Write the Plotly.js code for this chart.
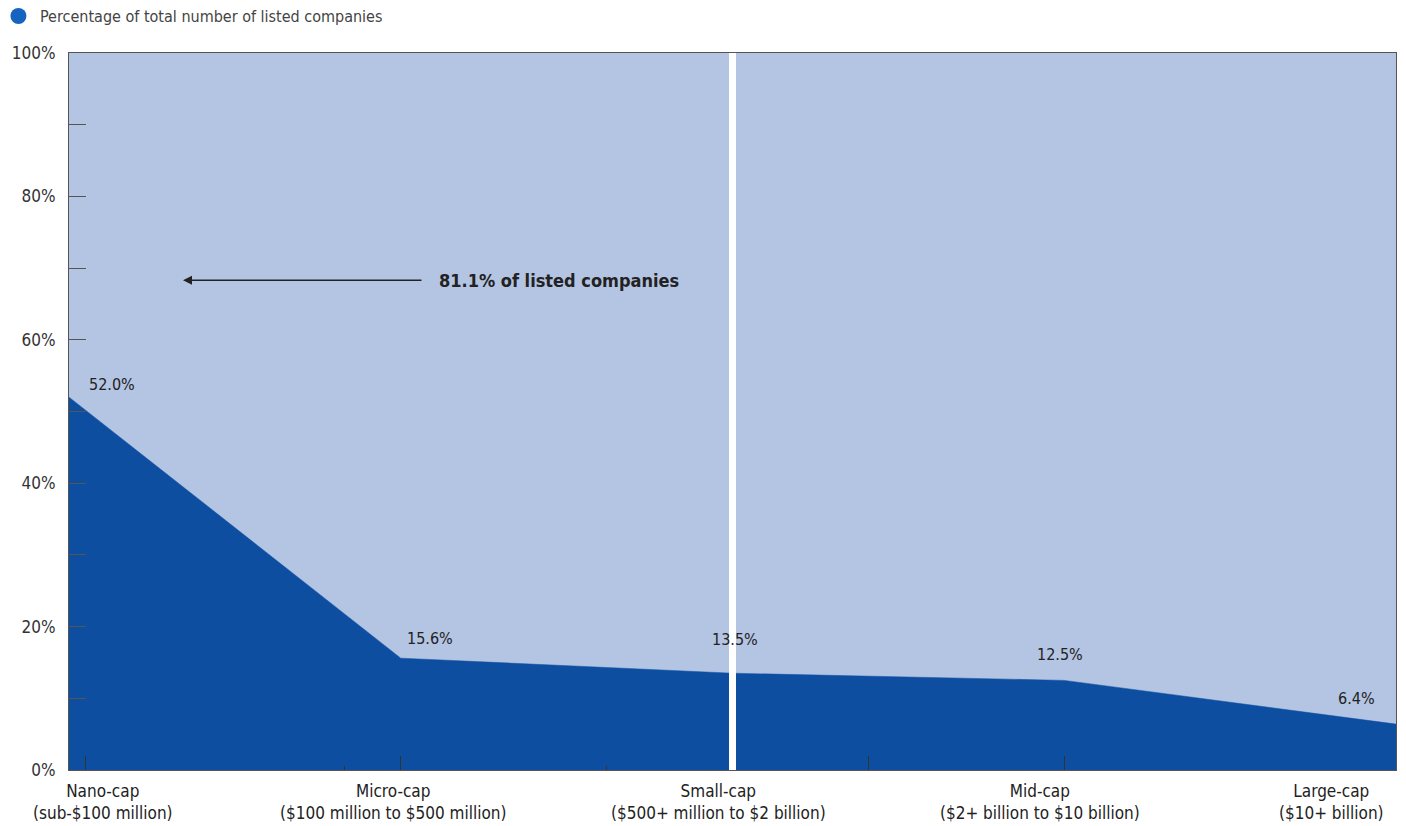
<!DOCTYPE html>
<html>
<head>
<meta charset="utf-8">
<script src="https://cdn.plot.ly/plotly-3.0.1.min.js"></script>
<style>
  html, body { margin: 0; padding: 0; background: #ffffff; }
  #chart { width: 1406px; height: 826px; }
</style>
</head>
<body>
<div id="chart"></div>
<script>
// ---- data ----
const categories = ["Nano-cap", "Micro-cap", "Small-cap", "Mid-cap", "Large-cap"];
const ranges = ["(sub-$100 million)", "($100 million to $500 million)", "($500+ million to $2 billion)", "($2+ billion to $10 billion)", "($10+ billion)"];
const shares = [52.0, 15.6, 13.5, 12.5, 6.4];
const seriesName = "Percentage of total number of listed companies";
const calloutText = "81.1% of listed companies";
const yTickVals = [0, 20, 40, 60, 80, 100];
const yTickText = ["0%", "20%", "40%", "60%", "80%", "100%"];
const yMinorVals = [10, 30, 50, 70, 90];
const xMajorTicks = [0.05, 1, 2.41, 3];
const xMinorTicks = [0.83, 1.62];

// ---- style ----
const FONT = "DejaVu Sans Condensed, Liberation Sans Narrow, sans-serif";
const DARK = "#0d4ea1";
const LIGHT = "#b4c4e3";
const TXT = "#222222";
const labelShift = [  // per-label pixel offsets for value labels [xshift, yshift, xanchor]
  [18, 13, "left"], [29, 20, "center"], [2, 34, "center"], [-4, 26, "center"], [-19, 26, "right"]
];
const catShift = [34, -8, -14, -24, -65];

const xIdx = categories.map((c, i) => i);

const traces = [{
  type: "scatter",
  mode: "lines",
  x: xIdx,
  y: shares,
  fill: "tozeroy",
  fillcolor: DARK,
  line: { color: DARK, width: 0.5 },
  hoverinfo: "skip",
  showlegend: false
}];

const annotations = [];
shares.forEach((v, i) => {
  annotations.push({
    x: i, y: v, xref: "x", yref: "y",
    text: v.toFixed(1) + "%",
    showarrow: false,
    xanchor: labelShift[i][2], yanchor: "middle",
    xshift: labelShift[i][0], yshift: labelShift[i][1],
    font: { family: FONT, size: 16, color: TXT }
  });
});
categories.forEach((c, i) => {
  annotations.push({
    x: i, y: 0, xref: "x", yref: "paper",
    text: c + "<br>" + ranges[i], showarrow: false,
    xanchor: "center", yanchor: "middle", align: "center",
    xshift: catShift[i], yshift: -32,
    font: { family: FONT, size: 17, color: TXT }
  });
});
// callout arrow + text
annotations.push({
  x: 0.3436, y: 68.3, xref: "x", yref: "y",
  ax: 240, ay: 0, axref: "pixel", ayref: "pixel",
  text: "", showarrow: true,
  arrowhead: 2, arrowsize: 1.2, arrowwidth: 1.5, arrowcolor: TXT
});
annotations.push({
  x: 1.109, y: 68.3, xref: "x", yref: "y",
  text: "<b>" + calloutText + "</b>", showarrow: false,
  xanchor: "left", yanchor: "middle",
  font: { family: FONT, size: 18, color: TXT }
});
// legend label
annotations.push({
  x: -0.0234, y: 1.0516, xref: "paper", yref: "paper",
  text: seriesName, showarrow: false,
  xanchor: "left", yanchor: "middle",
  font: { family: FONT, size: 16, color: "#444444" }
});

const layout = {
  width: 1406, height: 826,
  margin: { l: 69, r: 10, t: 53, b: 56, pad: 0 },
  paper_bgcolor: "#ffffff",
  plot_bgcolor: LIGHT,
  showlegend: false,
  font: { family: FONT, color: TXT },
  xaxis: {
    type: "linear", range: [0, 4], fixedrange: true,
    showgrid: false, zeroline: false,
    showline: true, linecolor: "#555555", linewidth: 1, mirror: true,
    tickmode: "array", tickvals: xMajorTicks, ticktext: xMajorTicks.map(() => ""),
    ticks: "inside", ticklen: 14, tickwidth: 1, tickcolor: "#333333",
    showticklabels: false,
    minor: { tickmode: "array", tickvals: xMinorTicks, ticks: "inside", ticklen: 4, tickwidth: 1, tickcolor: "#333333", showgrid: false }
  },
  yaxis: {
    range: [0, 100], fixedrange: true,
    showgrid: false, zeroline: false,
    showline: true, linecolor: "#555555", linewidth: 1, mirror: true,
    tickmode: "array", tickvals: yTickVals, ticktext: yTickText,
    ticks: "inside", ticklen: 17, tickwidth: 1, tickcolor: "#555555",
    ticklabelstandoff: 9,
    tickfont: { family: FONT, size: 17, color: "#333333" },
    minor: { tickmode: "array", tickvals: yMinorVals, ticks: "inside", ticklen: 17, tickwidth: 1, tickcolor: "#555555", showgrid: false }
  },
  shapes: [
    { type: "line", xref: "x", yref: "paper", x0: 2, x1: 2, y0: 0, y1: 1,
      line: { color: "#ffffff", width: 7 }, layer: "above" },
    { type: "circle", xref: "paper", yref: "paper",
      xsizemode: "pixel", ysizemode: "pixel",
      xanchor: -0.0381, yanchor: 1.0516,
      x0: -8, x1: 8, y0: -8, y1: 8,
      fillcolor: "#1565c0", line: { width: 0 } }
  ],
  annotations: annotations
};

Plotly.newPlot("chart", traces, layout, { displayModeBar: false, staticPlot: true });
</script>
</body>
</html>
